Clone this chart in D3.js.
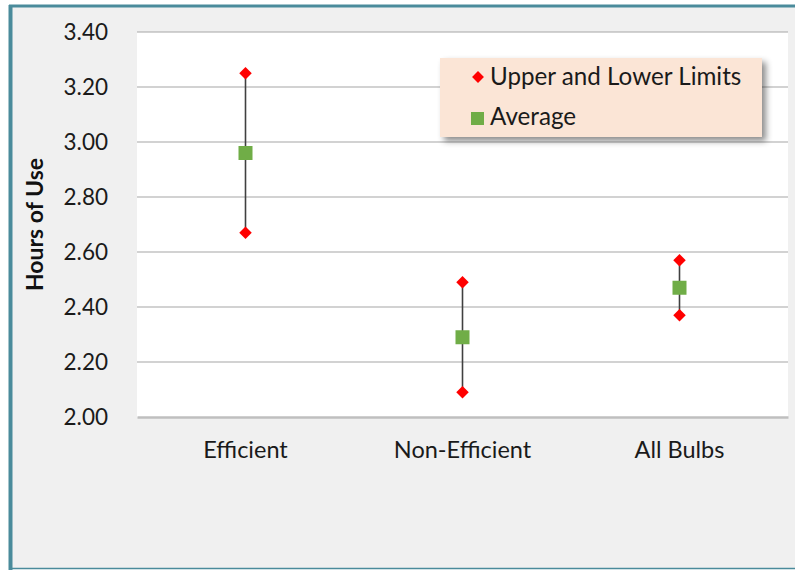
<!DOCTYPE html>
<html><head><meta charset="utf-8">
<script src="https://cdn.jsdelivr.net/npm/d3@7"></script>
<style>
body{margin:0;background:#fff;}
svg{display:block;font-family:Lato, "Open Sans", sans-serif;}
</style></head><body>
<svg id="c" width="795" height="570"></svg>
<script>
const categories = ["Efficient", "Non-Efficient", "All Bulbs"];
const upperLimits = [3.25, 2.49, 2.57];
const averages = [2.96, 2.29, 2.47];
const lowerLimits = [2.67, 2.09, 2.37];
const yTicks = [2.0, 2.2, 2.4, 2.6, 2.8, 3.0, 3.2, 3.4];
const legendLabels = ["Upper and Lower Limits", "Average"];

const svg = d3.select("#c");
// background and frame
svg.append("rect").attr("x",0).attr("y",0).attr("width",795).attr("height",570).attr("fill","#fff");
svg.append("rect").attr("x",11).attr("y",6).attr("width",784).attr("height",562).attr("fill","#f0f0f0");
svg.append("line").attr("x1",10.5).attr("x2",10.5).attr("y1",5).attr("y2",570).attr("stroke","#4a8b9b").attr("stroke-width",4);
svg.append("line").attr("x1",9).attr("x2",795).attr("y1",6).attr("y2",6).attr("stroke","#4a8b9b").attr("stroke-width",3);
svg.append("line").attr("x1",9).attr("x2",795).attr("y1",568.5).attr("y2",568.5).attr("stroke","#4a8b9b").attr("stroke-width",1.5);

const L=137, R=788, T=32, B=417;
const x = d3.scaleBand().domain(categories).range([L,R]);
const y = d3.scaleLinear().domain([2.0,3.4]).range([B,T]);

svg.append("rect").attr("x",L).attr("y",T).attr("width",R-L).attr("height",B-T).attr("fill","#fff");

// gridlines
svg.append("g").selectAll("line").data(yTicks.filter(d=>d>2)).join("line")
  .attr("x1",L).attr("x2",R).attr("y1",d=>y(d)).attr("y2",d=>y(d))
  .attr("stroke","#a6a6a6").attr("stroke-width",1.2);

// axes
const yAxis = d3.axisLeft(y).tickValues(yTicks).tickFormat(d3.format(".2f")).tickSize(0).tickPadding(29);
const gy = svg.append("g").attr("transform",`translate(${L},0)`).call(yAxis);
gy.select(".domain").remove();
gy.selectAll("text").attr("font-size",22.5).attr("fill","#1a1a1a").attr("font-family","Lato, sans-serif").attr("dy","0.33em");

const xAxis = d3.axisBottom(x).tickSize(0).tickPadding(24);
const gx = svg.append("g").attr("transform",`translate(0,${B})`).call(xAxis);
gx.select(".domain").attr("stroke","#bfbfbf").attr("stroke-width",2.5);
gx.selectAll("text").attr("font-size",23.5).attr("fill","#1a1a1a").attr("font-family","Lato, sans-serif");

svg.append("text").attr("transform",`translate(43,${(T+B)/2}) rotate(-90)`)
  .attr("text-anchor","middle").attr("font-size",23).attr("font-weight","bold").attr("fill","#111")
  .text("Hours of Use");

// error bars
const data = categories.map((c,i)=>({c, up:upperLimits[i], avg:averages[i], lo:lowerLimits[i]}));
const cx = d=>x(d.c)+x.bandwidth()/2;
svg.append("g").selectAll("line").data(data).join("line")
  .attr("x1",cx).attr("x2",cx).attr("y1",d=>y(d.up)).attr("y2",d=>y(d.lo))
  .attr("stroke","#404040").attr("stroke-width",1.6);

const diamond = d3.symbol().type(d3.symbolDiamond2).size(100);
const pts = [];
data.forEach(d=>{pts.push({c:d.c,v:d.up});pts.push({c:d.c,v:d.lo});});
svg.append("g").selectAll("path").data(pts).join("path")
  .attr("transform",d=>`translate(${x(d.c)+x.bandwidth()/2},${y(d.v)})`)
  .attr("d",diamond).attr("fill","#ff0000");

const sq=14;
svg.append("g").selectAll("rect").data(data).join("rect")
  .attr("x",d=>cx(d)-sq/2).attr("y",d=>y(d.avg)-sq/2).attr("width",sq).attr("height",sq)
  .attr("fill","#70ad47");

// legend
const defs = svg.append("defs");
const f = defs.append("filter").attr("id","sh").attr("x","-10%").attr("y","-10%").attr("width","130%").attr("height","140%");
f.append("feDropShadow").attr("dx",4).attr("dy",4).attr("stdDeviation",3).attr("flood-color","#000").attr("flood-opacity",0.45);
const lg = svg.append("g").attr("transform","translate(440,58)");
lg.append("rect").attr("width",322).attr("height",79).attr("fill","#fbe5d6").attr("filter","url(#sh)");
lg.append("path").attr("transform","translate(38,19)").attr("d",d3.symbol().type(d3.symbolDiamond2).size(90)).attr("fill","#ff0000");
lg.append("rect").attr("x",31).attr("y",54).attr("width",13).attr("height",13).attr("fill","#70ad47");
lg.selectAll("text").data(legendLabels).join("text")
  .attr("x",50).attr("y",(d,i)=>27+i*40).attr("font-size",24.2).attr("fill","#1a1a1a")
  .attr("font-family","Lato, sans-serif").text(d=>d);
</script>
</body></html>
